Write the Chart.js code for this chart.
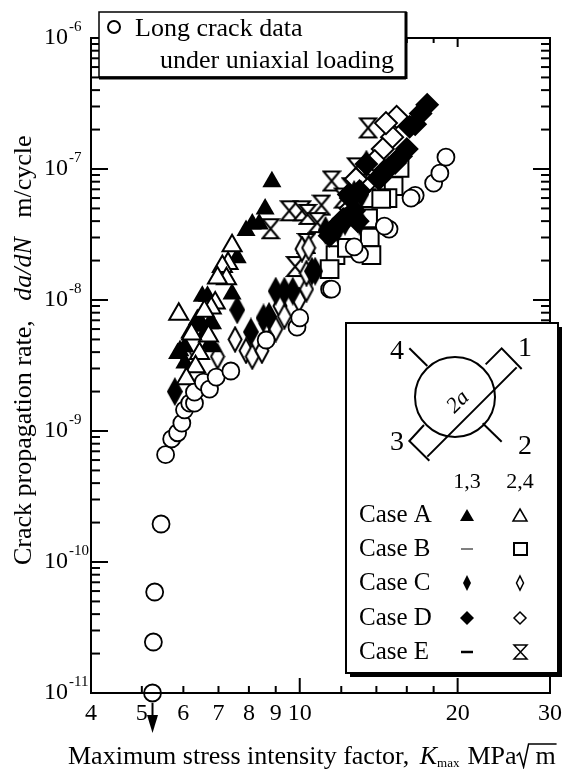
<!DOCTYPE html>
<html><head><meta charset="utf-8">
<style>html,body{margin:0;padding:0;background:#fff}canvas{display:block}</style>
<script src="https://cdn.jsdelivr.net/npm/chart.js@4/dist/chart.umd.min.js"></script>
</head><body><canvas id="c" width="568" height="769"></canvas>
<script>
const longX=[5.24,5.26,5.29,5.44,5.55,5.70,5.85,5.96,6.03,6.17,6.30,6.30,6.55,6.73,6.93,7.39,8.63,9.88,10.0,11.4,11.5,13.0,12.7,14.8,14.5,16.6,16.3,18.0,18.5,19.0];
const longY=[1e-11,2.45e-11,5.9e-11,1.95e-10,6.6e-10,8.7e-10,9.7e-10,1.15e-9,1.45e-9,1.63e-9,1.63e-9,1.98e-9,2.36e-9,2.09e-9,2.58e-9,2.87e-9,4.95e-9,6.2e-9,7.3e-9,1.21e-8,1.21e-8,2.24e-8,2.54e-8,3.48e-8,3.67e-8,6.3e-8,6.0e-8,7.8e-8,9.3e-8,1.23e-7];
const aFillX=[8.85,8.59,8.12,7.9,8.37,7.6,7.43,6.52,6.67,6.3,6.5,6.73,6.82,6.17,5.91,6.04,6.73,6.38,6.6,6.82,6.04,5.85];
const aFillY=[8e-8,4.95e-8,3.8e-8,3.4e-8,3.8e-8,2.1e-8,1.11e-8,1.07e-8,1.07e-8,6.3e-9,6.6e-9,6.6e-9,6.6e-9,5.6e-9,4.1e-9,3.3e-9,4.6e-9,7.1e-9,5.6e-9,4.4e-9,4.4e-9,3.9e-9];
const aOpenX=[7.43,7.3,7.12,7.25,6.97,5.88,6.9,6.78,6.58,6.7,6.22,6.44,6.33,6.08];
const aOpenY=[2.6e-8,1.9e-8,1.8e-8,1.45e-8,1.47e-8,7.8e-9,9.5e-9,8.7e-9,8.2e-9,5.3e-9,5.5e-9,3.9e-9,3.1e-9,2.5e-9];
const bOpenX=[15.5,15.1,14.7,13.5,13.6,13.7,11.7,11.4,13.4,14.3,12.3];
const bOpenY=[1.02e-7,7.4e-8,6e-8,4.2e-8,3e-8,2.2e-8,2.2e-8,1.72e-8,6e-8,5.9e-8,2.5e-8];
const cFillX=[7.6,5.78,8.07,8.53,8.74,9.0,9.35,9.7,10.7,10.55,11.2,11.8,12.2,13.0,12.7,13.1,13.4];
const cFillY=[8.4e-9,2.0e-9,5.7e-9,7.3e-9,7.5e-9,1.17e-8,1.17e-8,1.17e-8,1.66e-8,1.66e-8,3.4e-8,3.5e-8,4e-8,4e-8,6.4e-8,6.4e-8,1.09e-7];
const cOpenX=[7.53,7.9,8.12,8.47,6.97,6.11,8.63,9.0,9.17,9.35,9.97,10.3,10.3,10.1,10.4];
const cOpenY=[5e-9,4.1e-9,3.7e-9,4.1e-9,3.7e-9,3.5e-9,6.6e-9,6e-9,9e-9,7.5e-9,1e-8,1.21e-8,1.6e-8,2.45e-8,2.5e-8];
const dFillX=[17.5,17.0,16.6,16.2,16.0,15.6,15.2,14.8,14.5,14.2,14.1,13.4,13.0,12.5,12.4,12.7,12.3,12.1,11.8,11.6,11.4,12.9];
const dFillY=[3.1e-7,2.65e-7,2.2e-7,2.1e-7,1.42e-7,1.25e-7,1.11e-7,1.02e-7,9.7e-8,8.5e-8,8.5e-8,1.09e-7,6.8e-8,6e-8,6.4e-8,4.8e-8,4.2e-8,4.15e-8,3.7e-8,3.5e-8,3.1e-8,4e-8];
const dOpenX=[15.3,15.0,14.4,13.9,13.4,14.6,12.8,12.5];
const dOpenY=[2.5e-7,1.75e-7,1.42e-7,1.15e-7,7.8e-8,2.24e-7,8.4e-8,5e-8];
const eOpenX=[13.5,12.8,11.5,12.5,11.0,12.1,9.55,10.1,10.35,10.8,10.3,9.8,8.8];
const eOpenY=[2.06e-7,1.02e-7,8.1e-8,7.2e-8,5.3e-8,6e-8,4.8e-8,4.8e-8,4.5e-8,3.9e-8,2.7e-8,1.8e-8,3.5e-8];
const xTickValues=[4,5,6,7,8,9,10,12,14,16,18,20,30];
const xTickLabels={4:'4',5:'5',6:'6',7:'7',8:'8',9:'9',10:'10',20:'20',30:'30'};
const yDecades=[-11,-10,-9,-8,-7,-6];
const yMinorMantissas=[2,3,4,5,6,7,8,9];

const SERIF='"Liberation Serif"';
function mk(w,h,draw){const c=document.createElement('canvas');c.width=w;c.height=h;const g=c.getContext('2d');g.lineWidth=2;g.strokeStyle='#000';g.fillStyle='#fff';g.lineJoin='miter';draw(g);return c;}
const hourglass=mk(20,23,g=>{g.beginPath();g.moveTo(2,2);g.lineTo(18,2);g.lineTo(2,21);g.lineTo(18,21);g.closePath();g.fill();g.stroke();});
const tallOpen=mk(16,27,g=>{g.beginPath();g.moveTo(8,1.5);g.lineTo(14.5,13.5);g.lineTo(8,25.5);g.lineTo(1.5,13.5);g.closePath();g.fill();g.stroke();});
const tallFill=mk(16,29,g=>{g.fillStyle='#000';g.beginPath();g.moveTo(8,0);g.lineTo(16,14.5);g.lineTo(8,29);g.lineTo(0,14.5);g.closePath();g.fill();});
const pts=(xs,ys)=>xs.map((x,i)=>({x,y:ys[i]}));
const ds=(label,xs,ys,style,radius,bg,bw)=>({label,data:pts(xs,ys),pointStyle:style,pointRadius:radius,pointBackgroundColor:bg,pointBorderColor:'#000',pointBorderWidth:bw,showLine:false,clip:false});

function runs(ctx,list,x,y){for(const r of list){ctx.font=r.f;ctx.fillText(r.t,x+(r.dx||0),y+(r.dy||0));x+=ctx.measureText(r.t).width+(r.dx||0)+(r.after||0);}return x;}
const decor={id:'decor',
 afterDatasetsDraw(ch){
  const {ctx,chartArea:a,scales:{x,y}}=ch;
  ctx.save();ctx.strokeStyle='#000';ctx.fillStyle='#000';ctx.lineCap='butt';
  ctx.lineWidth=2;ctx.strokeRect(a.left,a.top,a.right-a.left,a.bottom-a.top);
  const line=(x0,y0,x1,y1,w)=>{ctx.lineWidth=w||2;ctx.beginPath();ctx.moveTo(x0,y0);ctx.lineTo(x1,y1);ctx.stroke();};
  for(const t of x.ticks){const px=x.getPixelForValue(t.value);const big=(t.value===10||t.value===20);
    line(px,a.bottom,px,a.bottom-(big?15:7));line(px,a.top,px,a.top+(big?9:5));}
  for(const t of y.ticks){const py=y.getPixelForValue(t.value);const big=Math.abs(Math.log10(t.value)-Math.round(Math.log10(t.value)))<1e-6;
    line(a.left,py,a.left+(big?17:9),py);line(a.right,py,a.right-(big?17:9),py);}
  // exponents of the y tick labels
  ctx.font='15px '+SERIF;ctx.textAlign='left';ctx.textBaseline='alphabetic';
  yDecades.forEach(d=>ctx.fillText(String(d),69,y.getPixelForValue(Math.pow(10,d))-7));
  // arrow below the lowest circle
  const ax=x.getPixelForValue(longX[0]);
  line(ax,a.bottom+10,ax,a.bottom+24);
  ctx.beginPath();ctx.moveTo(ax-5.5,a.bottom+22);ctx.lineTo(ax+5.5,a.bottom+22);ctx.lineTo(ax,a.bottom+40);ctx.closePath();ctx.fill();
  // boxes
  ctx.fillStyle='#fff';ctx.fillRect(99,12,307,65);
  ctx.lineWidth=1.5;ctx.strokeRect(99,12,307,65);
  line(99,78,406,78,3);line(406,12,406,79,3);
  ctx.fillStyle='#000';
  ctx.fillRect(350,672,212,5);ctx.fillRect(558,327,4,350);
  ctx.fillStyle='#fff';ctx.fillRect(346,323,212,350);
  ctx.lineWidth=2;ctx.strokeRect(346,323,212,350);
  // long crack legend
  ctx.textBaseline='alphabetic';ctx.textAlign='left';ctx.fillStyle='#000';
  ctx.lineWidth=2;ctx.beginPath();ctx.arc(114,27,6,0,Math.PI*2);ctx.stroke();
  ctx.font='26px '+SERIF;ctx.fillText('Long crack data',135,36);ctx.fillText('under uniaxial loading',160,68);
  // specimen sketch
  const P=(u,v)=>[340+u/3,310+v/3];
  const poly=(arr)=>{ctx.lineWidth=2;ctx.beginPath();arr.forEach((p,i)=>{const q=P(p[0],p[1]);i?ctx.lineTo(q[0],q[1]):ctx.moveTo(q[0],q[1]);});ctx.stroke();};
  ctx.lineWidth=2;ctx.beginPath();ctx.arc(455,397,40,0,Math.PI*2);ctx.stroke();
  poly([[262,440],[530,172]]);poly([[437,163],[485,115],[545,177]]);poly([[252,345],[208,393],[268,452]]);
  poly([[208,115],[262,168]]);poly([[428,340],[485,395]]);
  ctx.font='28px '+SERIF;ctx.textAlign='center';ctx.textBaseline='middle';
  ctx.fillText('4',397,352);ctx.fillText('1',525,349);ctx.fillText('3',397,443);ctx.fillText('2',525,447);
  ctx.save();ctx.translate(461,405);ctx.rotate(-Math.PI/4);ctx.font='italic 22px '+SERIF;ctx.fillText('2a',0,-4);ctx.restore();
  ctx.font='22px '+SERIF;ctx.fillText('1,3',467,482);ctx.fillText('2,4',520,482);
  // case table
  const rows=['Case A','Case B','Case C','Case D','Case E'],ry=[515,549,583,618,652];
  ctx.textAlign='left';ctx.font='25px '+SERIF;rows.forEach((t,i)=>ctx.fillText(t,359,ry[i]));
  const L=467,R=520;ctx.lineWidth=1.5;
  const tri=(cx,cy,fill)=>{ctx.beginPath();ctx.moveTo(cx,cy-6);ctx.lineTo(cx+7,cy+6);ctx.lineTo(cx-7,cy+6);ctx.closePath();fill?ctx.fill():ctx.stroke();};
  const dia=(cx,cy,w,h,fill)=>{ctx.beginPath();ctx.moveTo(cx,cy-h);ctx.lineTo(cx+w,cy);ctx.lineTo(cx,cy+h);ctx.lineTo(cx-w,cy);ctx.closePath();fill?ctx.fill():ctx.stroke();};
  tri(L,ry[0],true);tri(R,ry[0],false);
  line(L-6,ry[1],L+6,ry[1],1);ctx.lineWidth=2;ctx.strokeRect(R-6,ry[1]-6,13,12);
  dia(L,ry[2],4,8,true);ctx.lineWidth=1.5;dia(R,ry[2],3.5,7,false);
  dia(L,ry[3],7,7,true);dia(R,ry[3],6,6,false);
  line(L-6,ry[4],L+6,ry[4],2.5);
  ctx.lineWidth=1.5;ctx.beginPath();ctx.moveTo(R-6,ry[4]-7);ctx.lineTo(R+7,ry[4]-7);ctx.lineTo(R-6,ry[4]+7);ctx.lineTo(R+7,ry[4]+7);ctx.closePath();ctx.stroke();
  // x title
  ctx.textBaseline='alphabetic';ctx.textAlign='left';
  let e=runs(ctx,[{t:'Maximum stress intensity factor, ',f:'26px '+SERIF},{t:'K',f:'italic 26px '+SERIF,dx:4},{t:'max',f:'13px '+SERIF,dy:3,after:8},{t:'MPa',f:'26px '+SERIF}],68,764);
  ctx.lineWidth=1.5;ctx.beginPath();ctx.moveTo(e,756);ctx.lineTo(e+3,753);ctx.lineTo(e+7,767);ctx.lineTo(e+12,744);ctx.lineTo(e+40,744);ctx.stroke();
  ctx.font='26px '+SERIF;ctx.fillText('m',e+19,764);
  // y title
  ctx.save();ctx.translate(31,565);ctx.rotate(-Math.PI/2);
  runs(ctx,[{t:'Crack propagation rate,   ',f:'26px '+SERIF},{t:'da/dN',f:'italic 26px '+SERIF},{t:'   m/cycle',f:'26px '+SERIF}],0,0);
  ctx.restore();
  ctx.restore();
 }};

new Chart(document.getElementById('c'),{type:'scatter',
 data:{datasets:[
  ds('Long crack data',longX,longY,'circle',8.5,'#fff',1.8),
  ds('Case A 2,4',aOpenX,aOpenY,'triangle',11,'#fff',2),
  ds('Case A 1,3',aFillX,aFillY,'triangle',11,'#000',0),
  ds('Case D 1,3',dFillX,dFillY,'rectRot',12,'#000',0),
  ds('Case C 1,3',cFillX,cFillY,tallFill,12,'#000',0),
  ds('Case D 2,4',dOpenX,dOpenY,'rectRot',11,'#fff',2),
  ds('Case C 2,4',cOpenX,cOpenY,tallOpen,12,'#fff',2),
  ds('Case B 2,4',bOpenX,bOpenY,'rect',12.5,'#fff',2),
  ds('Case E 2,4',eOpenX,eOpenY,hourglass,11,'#fff',2)
 ]},
 options:{responsive:false,animation:false,events:[],
  layout:{padding:{top:38,right:15,left:0,bottom:0}},
  plugins:{legend:{display:false},tooltip:{enabled:false},title:{display:false}},
  scales:{
   x:{type:'logarithmic',min:4,max:30,
    grid:{display:false,drawTicks:false},border:{display:false},
    afterBuildTicks(s){s.ticks=xTickValues.map(v=>({value:v}));},
    afterFit(s){s.height=76;},
    ticks:{autoSkip:false,maxRotation:0,padding:6,color:'#000',font:{family:SERIF,size:24},
     callback:v=>xTickLabels[v]||''}},
   y:{type:'logarithmic',min:1e-11,max:1e-6,
    grid:{display:false,drawTicks:false},border:{display:false},
    afterBuildTicks(s){const t=[];yDecades.forEach(d=>{t.push({value:Math.pow(10,d)});if(d<-6)yMinorMantissas.forEach(m=>t.push({value:m*Math.pow(10,d)}));});s.ticks=t;},
    afterFit(s){s.width=91;},
    ticks:{autoSkip:false,padding:23,color:'#000',font:{family:SERIF,size:24},
     callback:v=>{const e=Math.log10(v);return Math.abs(e-Math.round(e))>1e-6?'':'10';}}}
  }},
 plugins:[decor]});
</script></body></html>
